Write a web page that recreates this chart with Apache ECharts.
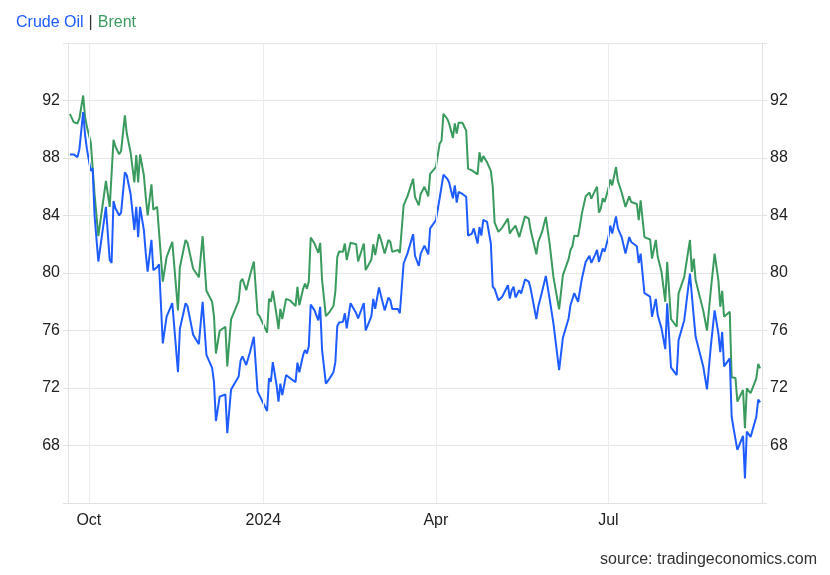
<!DOCTYPE html>
<html>
<head>
<meta charset="utf-8">
<script src="https://cdn.jsdelivr.net/npm/echarts@6/dist/echarts.min.js"></script>
<style>html,body{margin:0;padding:0;background:#fff}#c{width:830px;height:575px}</style>
</head>
<body>
<div id="c"></div>
<script>
const dates = ['2023-09-21','2023-09-23','2023-09-25','2023-09-26','2023-09-28','2023-09-29','2023-09-30','2023-10-02','2023-10-03','2023-10-04','2023-10-06','2023-10-10','2023-10-12','2023-10-13','2023-10-14','2023-10-15','2023-10-17','2023-10-18','2023-10-20','2023-10-21','2023-10-23','2023-10-25','2023-10-26','2023-10-27','2023-10-28','2023-10-30','2023-10-31','2023-11-01','2023-11-03','2023-11-04','2023-11-06','2023-11-07','2023-11-09','2023-11-11','2023-11-14','2023-11-15','2023-11-17','2023-11-18','2023-11-21','2023-11-22','2023-11-25','2023-11-28','2023-11-30','2023-12-02','2023-12-05','2023-12-06','2023-12-07','2023-12-08','2023-12-09','2023-12-12','2023-12-13','2023-12-15','2023-12-16','2023-12-19','2023-12-20','2023-12-21','2023-12-23','2023-12-25','2023-12-27','2023-12-29','2023-12-30','2024-01-03','2024-01-04','2024-01-05','2024-01-06','2024-01-08','2024-01-09','2024-01-10','2024-01-11','2024-01-13','2024-01-15','2024-01-18','2024-01-19','2024-01-20','2024-01-22','2024-01-23','2024-01-24','2024-01-25','2024-01-26','2024-01-28','2024-01-30','2024-01-31','2024-02-01','2024-02-03','2024-02-05','2024-02-07','2024-02-08','2024-02-09','2024-02-10','2024-02-12','2024-02-13','2024-02-14','2024-02-16','2024-02-19','2024-02-20','2024-02-23','2024-02-24','2024-02-27','2024-02-28','2024-02-29','2024-03-02','2024-03-03','2024-03-05','2024-03-07','2024-03-08','2024-03-09','2024-03-12','2024-03-13','2024-03-15','2024-03-16','2024-03-17','2024-03-20','2024-03-21','2024-03-23','2024-03-24','2024-03-26','2024-03-28','2024-03-29','2024-03-30','2024-04-01','2024-04-03','2024-04-04','2024-04-05','2024-04-07','2024-04-08','2024-04-10','2024-04-11','2024-04-12','2024-04-13','2024-04-15','2024-04-17','2024-04-18','2024-04-20','2024-04-21','2024-04-23','2024-04-24','2024-04-25','2024-04-26','2024-04-28','2024-04-30','2024-05-01','2024-05-02','2024-05-04','2024-05-06','2024-05-09','2024-05-10','2024-05-11','2024-05-12','2024-05-13','2024-05-15','2024-05-16','2024-05-18','2024-05-20','2024-05-21','2024-05-24','2024-05-25','2024-05-27','2024-05-29','2024-05-31','2024-06-02','2024-06-05','2024-06-07','2024-06-08','2024-06-10','2024-06-11','2024-06-12','2024-06-13','2024-06-15','2024-06-16','2024-06-17','2024-06-19','2024-06-21','2024-06-22','2024-06-24','2024-06-25','2024-06-26','2024-06-27','2024-06-28','2024-06-29','2024-07-01','2024-07-02','2024-07-03','2024-07-05','2024-07-06','2024-07-08','2024-07-10','2024-07-12','2024-07-13','2024-07-16','2024-07-17','2024-07-18','2024-07-19','2024-07-20','2024-07-23','2024-07-24','2024-07-26','2024-07-27','2024-07-29','2024-07-31','2024-08-01','2024-08-03','2024-08-06','2024-08-07','2024-08-10','2024-08-13','2024-08-14','2024-08-15','2024-08-16','2024-08-20','2024-08-22','2024-08-24','2024-08-26','2024-08-28','2024-08-29','2024-08-30','2024-08-31','2024-09-03','2024-09-04','2024-09-05','2024-09-06','2024-09-07','2024-09-10','2024-09-11','2024-09-12','2024-09-14','2024-09-17','2024-09-18','2024-09-19'];

const crudeOil = [88.25,88.25,88.06,88.6,91.2,89.6,88.6,87.1,87.3,84.0,80.8,84.6,80.9,80.7,85.0,84.5,84.0,84.2,87.0,86.8,85.5,83.0,84.6,82.5,84.6,83.0,81.4,80.1,82.3,80.2,80.4,80.6,75.1,76.96,77.9,78.0,73.1,76.1,77.9,77.7,75.7,75.05,78.0,74.3,73.4,72.4,69.7,69.7,71.4,71.55,68.85,71.9,72.0,72.8,73.9,74.2,73.6,74.5,75.56,71.75,71.65,70.4,72.67,72.44,73.8,72.2,71.05,72.3,71.5,72.9,72.7,72.4,73.76,73.1,74.3,74.64,74.4,74.9,77.8,77.4,76.7,77.65,74.64,72.3,72.67,73.1,73.8,76.3,76.56,76.6,77.2,76.15,77.9,77.2,76.84,77.9,76.0,77.0,78.2,77.5,79.0,78.46,77.4,78.3,78.1,77.5,77.5,77.2,80.66,80.6,81.35,82.7,81.2,80.5,81.35,81.9,81.3,83.1,83.2,83.67,85.2,85.33,86.84,86.56,86.3,85.2,86.1,84.9,85.64,85.5,85.3,82.6,82.74,83.1,82.05,83.2,82.6,83.7,83.56,82.05,79.04,78.9,78.1,78.35,79.15,78.23,78.8,79.04,78.3,78.8,78.58,79.55,79.4,78.9,76.8,77.65,78.7,79.8,78.2,76.5,73.25,75.5,75.56,76.84,77.76,77.88,78.6,78.0,78.8,79.6,80.77,81.2,80.7,81.28,81.6,80.77,80.8,81.7,81.5,82.5,83.3,82.74,83.94,83.1,82.5,81.35,82.5,82.16,81.86,80.7,81.35,81.24,78.6,78.35,76.96,78.2,77.07,76.15,74.7,77.9,73.44,72.9,75.33,76.72,79.96,78.46,76.96,75.56,73.5,71.9,74.9,77.4,75.8,74.5,75.9,73.5,74.06,70.0,69.2,69.1,67.7,68.67,65.7,68.97,68.6,70.0,71.2,71.0];

const brent = [91.07,90.5,90.4,90.75,92.35,90.85,90.15,89.1,89.1,85.5,82.56,86.4,84.6,84.7,89.27,88.8,88.25,88.5,90.96,89.7,88.4,86.3,88.2,86.3,88.25,86.8,85.3,84.0,86.17,84.4,84.6,84.7,79.4,81.1,82.16,82.16,77.4,80.4,82.3,82.1,80.3,79.7,82.56,78.76,78.0,76.96,74.4,74.3,75.98,76.26,73.5,76.77,76.9,78.06,79.4,79.6,78.8,79.85,80.8,77.15,77.0,75.85,78.2,78.0,78.76,77.07,76.1,77.5,76.8,78.2,78.1,77.7,79.04,77.76,78.9,79.27,78.9,79.4,82.47,82.05,81.4,82.1,79.5,77.0,77.3,77.7,78.7,81.1,81.5,81.47,82.05,80.9,82.1,82.0,80.8,82.05,80.2,80.94,82.0,81.24,82.7,82.33,81.35,82.3,82.16,81.47,81.6,81.4,84.7,84.7,85.33,86.56,85.3,84.7,85.5,86.0,85.33,86.9,87.03,87.37,89.0,89.2,91.07,90.73,90.4,89.4,90.4,89.7,90.45,90.45,89.9,87.26,87.14,87.26,86.86,88.4,87.7,88.13,87.7,87.1,86.0,83.5,82.86,83.16,83.78,82.74,82.97,83.1,83.3,82.5,82.6,83.94,83.78,82.97,81.3,82.16,82.86,83.9,82.05,79.73,77.47,79.85,79.73,80.96,81.6,81.86,82.6,82.56,83.3,84.13,85.33,85.6,85.17,85.75,86.0,84.2,84.48,85.2,84.94,85.87,86.5,86.1,87.37,86.4,85.6,84.6,85.33,84.94,84.8,83.67,85.05,85.0,82.5,82.33,81.0,82.3,81.13,80.08,78.0,80.77,76.8,76.26,78.58,79.73,82.3,80.08,81.0,79.5,77.4,76.0,78.8,81.35,79.5,77.65,78.76,76.96,77.3,72.74,72.7,72.7,71.05,71.86,69.2,71.98,71.64,72.67,73.67,73.37];

const xTickDates = ['2023-10-01','2024-01-01','2024-04-01','2024-07-01'];
const xTickLabels = ['Oct','2024','Apr','Jul'];
const yTicks = [68,72,76,80,84,88,92];

function ts(s){const p=s.split('-').map(Number);return new Date(p[0],p[1]-1,p[2]).getTime();}
const xTickTs = xTickDates.map(ts);

const chart = echarts.init(document.getElementById('c'), null, {renderer:'canvas'});
const font = "'Liberation Sans', Arial, sans-serif";
const gridColor = '#e6e6e6';
function yFmt(v){return yTicks.indexOf(v) >= 0 ? String(v) : '';}
function yAxisCfg(pos){
  return {
    type:'value', position:pos, min:64, max:96, interval:4,
    axisLine:{show:true,lineStyle:{color:'#e2e2e2'}},
    axisTick:{show:true,length:5,lineStyle:{color:'#e2e2e2'}},
    splitLine:{show:true,lineStyle:{color:gridColor}},
    axisLabel:{formatter:yFmt,color:'#222',fontSize:16,fontFamily:font,margin:8}
  };
}
const rs = (c)=>({color:c,fontSize:16,fontWeight:'normal',fontFamily:font});
chart.setOption({
  animation:false,
  title:[
    {left:16,top:14,padding:0,text:'{a|Crude Oil} {b||} {c|Brent}',
     textStyle:{fontWeight:'normal',rich:{a:rs('#1f5cff'),b:rs('#333'),c:rs('#3b9a5e')}}},
    {right:13,top:552,padding:0,text:'source: tradingeconomics.com',textStyle:{color:'#333',fontSize:16,fontWeight:'normal',fontFamily:font}}
  ],
  grid:{left:68,right:68,top:43,bottom:72,containLabel:false},
  xAxis:{
    type:'value', min:ts('2023-09-20'), max:ts('2024-09-20'),
    axisLine:{show:true,lineStyle:{color:'#e2e2e2'}},
    axisTick:{show:false,customValues:xTickTs},
    splitLine:{show:false},
    axisLabel:{customValues:xTickTs,color:'#222',fontSize:16,fontFamily:font,margin:10,
      formatter:function(v){const i=xTickTs.indexOf(v);return i>=0?xTickLabels[i]:'';}}
  },
  yAxis:[yAxisCfg('left'),yAxisCfg('right')],
  series:[
    {name:'grid',type:'line',z:1,data:[],silent:true,
     markLine:{silent:true,symbol:['none','none'],label:{show:false},animation:false,
       lineStyle:{color:'#e8eef1',width:1,type:'solid'},
       data:xTickTs.map(t=>({xAxis:t}))}},
    {name:'Brent',type:'line',showSymbol:false,yAxisIndex:0,z:2,
     lineStyle:{color:'#3b9a5e',width:2},itemStyle:{color:'#3b9a5e'},
     data:dates.map((d,i)=>[ts(d),brent[i]])},
    {name:'Crude Oil',type:'line',showSymbol:false,yAxisIndex:0,z:3,
     lineStyle:{color:'#1f5cff',width:2},itemStyle:{color:'#1f5cff'},
     data:dates.map((d,i)=>[ts(d),crudeOil[i]])}
  ]
});
</script>
</body>
</html>
